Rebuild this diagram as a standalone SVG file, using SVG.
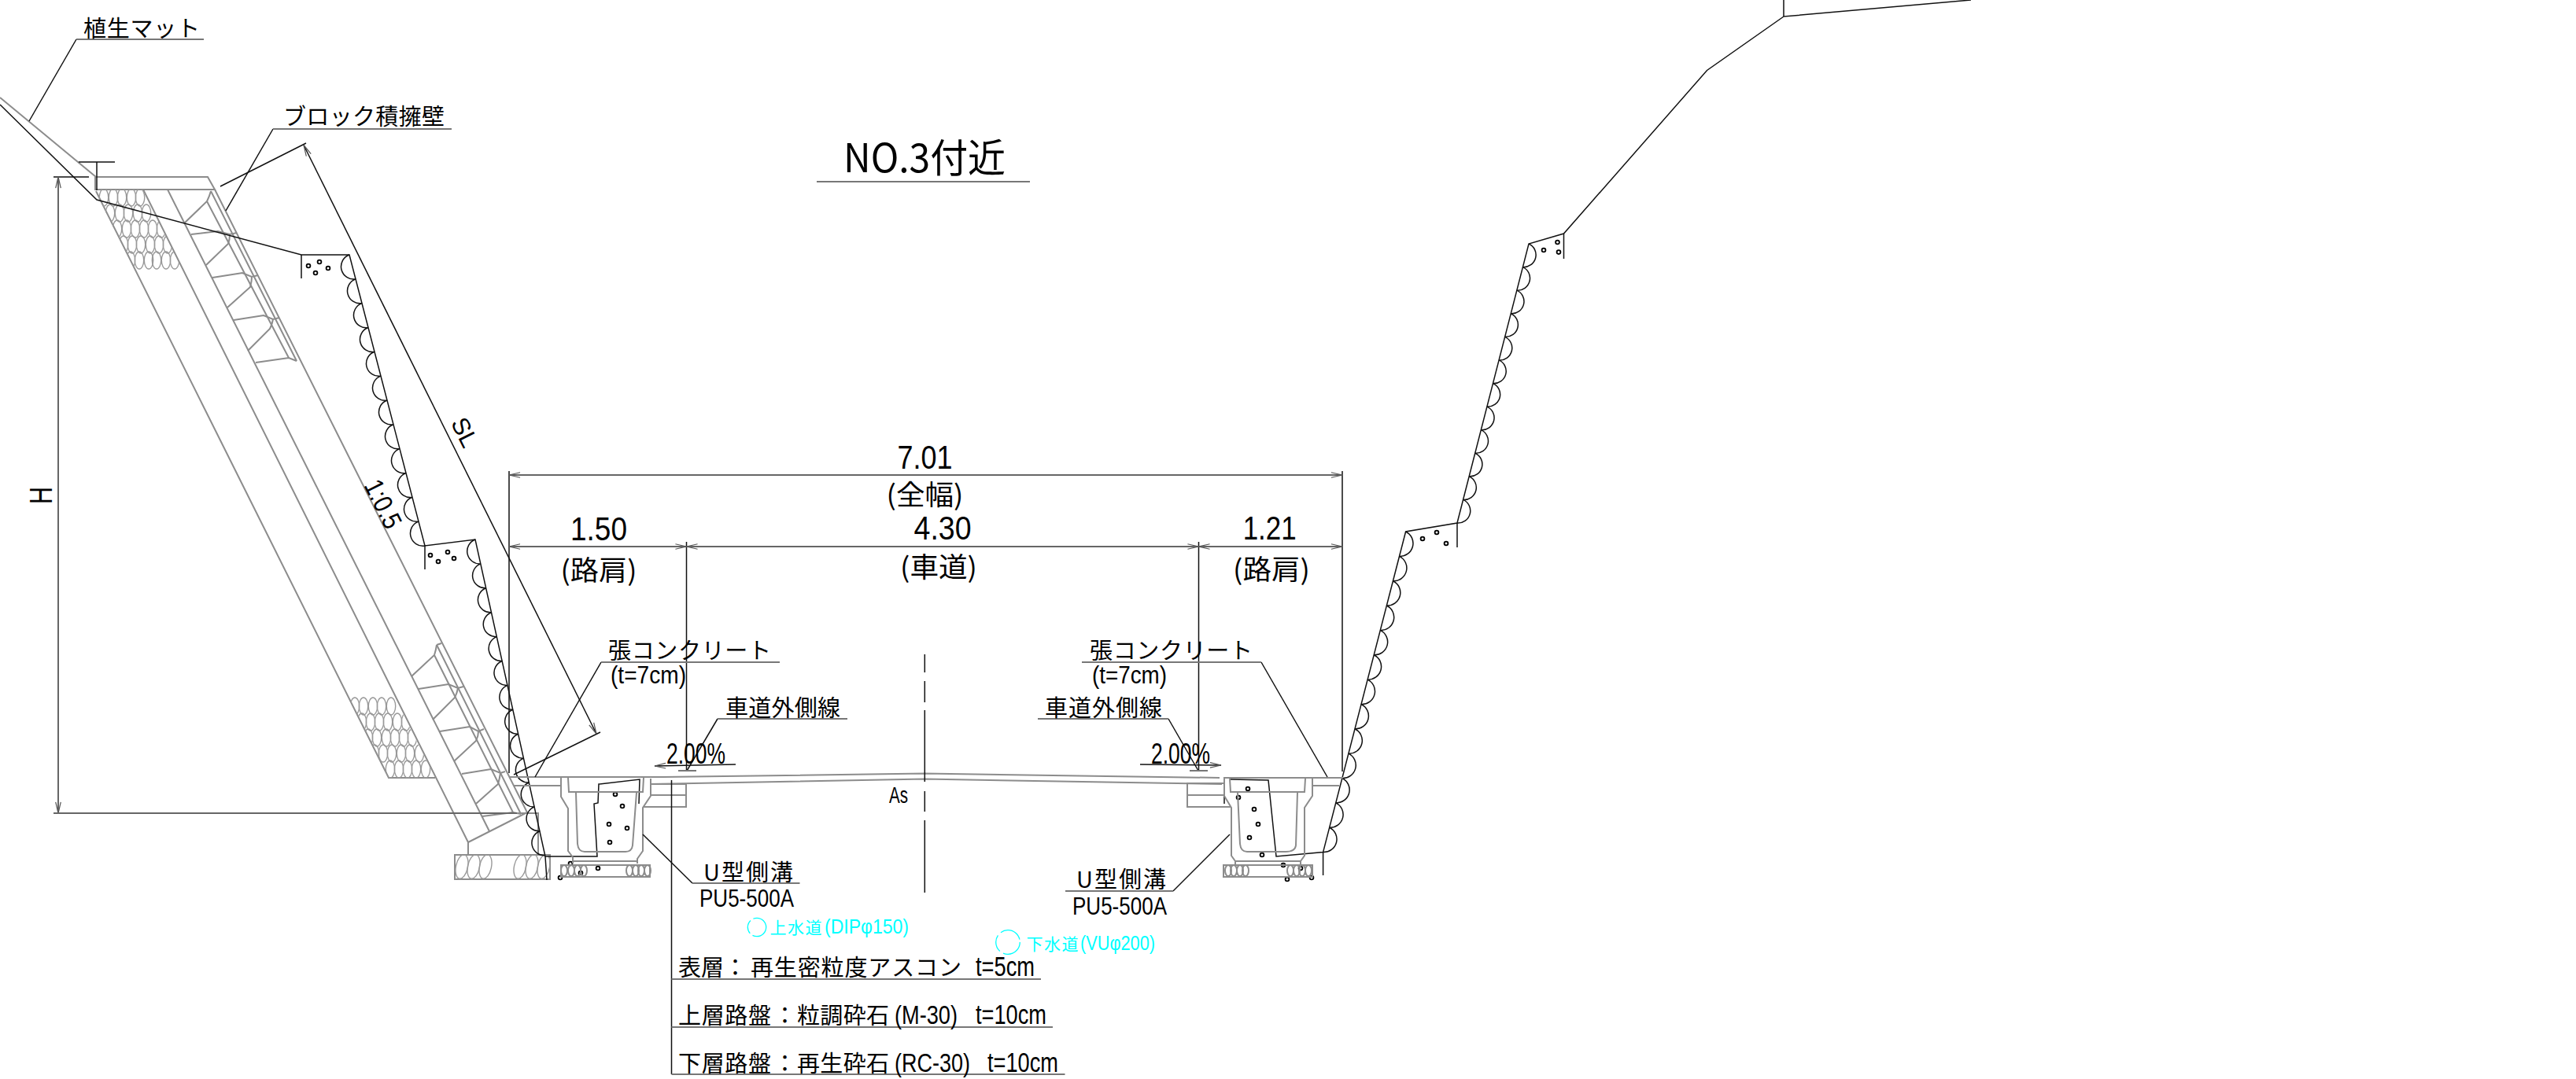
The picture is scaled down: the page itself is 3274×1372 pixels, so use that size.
<svg xmlns="http://www.w3.org/2000/svg" width="3274" height="1372" viewBox="0 0 3274 1372">
<style>
.t{font-family:"Noto Sans CJK JP","Liberation Sans",sans-serif;fill:#000}
.n{font-family:"Liberation Sans","Noto Sans CJK JP",sans-serif;fill:#000}
.c{fill:#0ff}
.g,.g path,.g line,.g ellipse,.g rect{fill:none;stroke:#8c8c8c;stroke-width:2}
.k,.k path,.k line{fill:none;stroke:#111;stroke-width:1.5}
.h{fill:none;stroke:#999;stroke-width:1.4}
.d{fill:#fff;stroke:#000;stroke-width:1.8}
.dim{fill:none;stroke:#666;stroke-width:2}
.ul{fill:none;stroke:#777;stroke-width:1.8}
</style>
<defs>
<marker id="a" markerUnits="userSpaceOnUse" markerWidth="30" markerHeight="14" refX="0" refY="0" viewBox="-16 -7 32 14" orient="auto-start-reverse" overflow="visible">
<path d="M-15 -3.5L0 0L-15 3.5" fill="none" stroke="#555" stroke-width="1.3"/>
</marker>
<clipPath id="cu"><polygon points="120,241 181,241 233,345 172,345"/></clipPath>
<clipPath id="cl"><polygon points="430,860 488,860 553,989 494,989"/></clipPath>
<clipPath id="cf"><rect x="578" y="1087" width="121" height="31"/></clipPath>
</defs>

<g id="wall-left" class="g">
<path d="M0 124L122 225H264L273 241H121V225"/>
<path d="M122 243L494 989H553"/>
<path d="M182 241L595 1071V1086"/>
<path d="M213 241L622 1057"/>
<path d="M273 241L670 1033L595 1071"/>
<path d="M268 243L377 459M263 256L367 455M555 820L662 1035M552 833L652 1033M555 820L561 818"/>
<path d="M234 284L263 256Q266 250 268 243M243 298L277 294L292 298L301 296M262 337L290 310Q292 305 292 298M270 353L308 347L320 352L328 350M289 391L318 365Q320 358 320 352M297 407L335 401L347 406L355 404M315 446L343 418Q346 412 347 406M325 461L367 455L377 459"/>
<path d="M523 860L552 833Q554 827 555 820M532 876L570 870L582 875L589 873M550 915L578 887Q581 881 582 875M559 930L597 924L608 930L615 927M577 968L605 942Q608 936 608 930M587 984L624 978L636 983L642 981M605 1022L633 997Q635 990 636 983M613 1038L652 1033L662 1035"/>
<path d="M657 1034H684V1087"/>
<rect x="578" y="1087" width="121" height="31"/>
</g>
<g id="rubble-upper" clip-path="url(#cu)" class="h">
<ellipse cx="132" cy="251" rx="5.7" ry="11"/><ellipse cx="144" cy="251" rx="5.7" ry="11"/><ellipse cx="155" cy="251" rx="5.7" ry="11"/><ellipse cx="167" cy="251" rx="5.7" ry="11"/><ellipse cx="178" cy="251" rx="5.7" ry="11"/>
<ellipse cx="140" cy="271" rx="5.7" ry="11"/><ellipse cx="152" cy="271" rx="5.7" ry="11"/><ellipse cx="163" cy="271" rx="5.7" ry="11"/><ellipse cx="175" cy="271" rx="5.7" ry="11"/><ellipse cx="186" cy="271" rx="5.7" ry="11"/>
<ellipse cx="149" cy="291" rx="5.7" ry="11"/><ellipse cx="161" cy="291" rx="5.7" ry="11"/><ellipse cx="172" cy="291" rx="5.7" ry="11"/><ellipse cx="183" cy="291" rx="5.7" ry="11"/><ellipse cx="194" cy="291" rx="5.7" ry="11"/><ellipse cx="205" cy="291" rx="5.7" ry="11"/>
<ellipse cx="157" cy="311" rx="5.7" ry="11"/><ellipse cx="168" cy="311" rx="5.7" ry="11"/><ellipse cx="179" cy="311" rx="5.7" ry="11"/><ellipse cx="191" cy="311" rx="5.7" ry="11"/><ellipse cx="202" cy="311" rx="5.7" ry="11"/><ellipse cx="213" cy="311" rx="5.7" ry="11"/>
<ellipse cx="166" cy="331" rx="5.7" ry="11"/><ellipse cx="177" cy="331" rx="5.7" ry="11"/><ellipse cx="189" cy="331" rx="5.7" ry="11"/><ellipse cx="199" cy="331" rx="5.7" ry="11"/><ellipse cx="211" cy="331" rx="5.7" ry="11"/><ellipse cx="222" cy="331" rx="5.7" ry="11"/>
</g>
<g id="rubble-lower" clip-path="url(#cl)" class="h">
<ellipse cx="451" cy="898" rx="5.7" ry="11"/><ellipse cx="462" cy="898" rx="5.7" ry="11"/><ellipse cx="474" cy="898" rx="5.7" ry="11"/><ellipse cx="485" cy="898" rx="5.7" ry="11"/><ellipse cx="497" cy="898" rx="5.7" ry="11"/>
<ellipse cx="460" cy="918" rx="5.7" ry="11"/><ellipse cx="471" cy="918" rx="5.7" ry="11"/><ellipse cx="482" cy="918" rx="5.7" ry="11"/><ellipse cx="493" cy="918" rx="5.7" ry="11"/><ellipse cx="505" cy="918" rx="5.7" ry="11"/><ellipse cx="516" cy="918" rx="5.7" ry="11"/>
<ellipse cx="468" cy="938" rx="5.7" ry="11"/><ellipse cx="479" cy="938" rx="5.7" ry="11"/><ellipse cx="491" cy="938" rx="5.7" ry="11"/><ellipse cx="502" cy="938" rx="5.7" ry="11"/><ellipse cx="513" cy="938" rx="5.7" ry="11"/><ellipse cx="524" cy="938" rx="5.7" ry="11"/>
<ellipse cx="476" cy="958" rx="5.7" ry="11"/><ellipse cx="487" cy="958" rx="5.7" ry="11"/><ellipse cx="498" cy="958" rx="5.7" ry="11"/><ellipse cx="510" cy="958" rx="5.7" ry="11"/><ellipse cx="521" cy="958" rx="5.7" ry="11"/><ellipse cx="533" cy="958" rx="5.7" ry="11"/>
<ellipse cx="496" cy="978" rx="5.7" ry="11"/><ellipse cx="507" cy="978" rx="5.7" ry="11"/><ellipse cx="518" cy="978" rx="5.7" ry="11"/><ellipse cx="529" cy="978" rx="5.7" ry="11"/><ellipse cx="541" cy="978" rx="5.7" ry="11"/>
</g>
<g id="foundation-stones" clip-path="url(#cf)" class="h">
<ellipse cx="587" cy="1102" rx="7.5" ry="15.5" transform="rotate(12 587 1102)"/><ellipse cx="602" cy="1102" rx="7.5" ry="15.5" transform="rotate(12 602 1102)"/><ellipse cx="617" cy="1102" rx="7.5" ry="15.5" transform="rotate(12 617 1102)"/><ellipse cx="661" cy="1102" rx="7.5" ry="15.5" transform="rotate(12 661 1102)"/><ellipse cx="676" cy="1102" rx="7.5" ry="15.5" transform="rotate(12 676 1102)"/><ellipse cx="691" cy="1102" rx="7.5" ry="15.5" transform="rotate(12 691 1102)"/>
</g>

<g id="rock-left" class="k">
<path d="M0 133L123 254L383 324H444L540 694L604 686L693 1089H759L755 1022L760 1021L761 997L813 991L812 1022"/>
<path d="M383 324V354M540 694V724M693 1089L695 1119"/>
<path d="M444 324a16 16 0 0 0 8 30.83a16 16 0 0 0 8 30.83a16 16 0 0 0 8 30.83a16 16 0 0 0 8 30.83a16 16 0 0 0 8 30.83a16 16 0 0 0 8 30.83a16 16 0 0 0 8 30.83a16 16 0 0 0 8 30.83a16 16 0 0 0 8 30.83a16 16 0 0 0 8 30.83a16 16 0 0 0 8 30.83a16 16 0 0 0 8 30.83"/>
<path d="M604 686a16 16 0 0 0 6.85 30.9a16 16 0 0 0 6.85 30.9a16 16 0 0 0 6.85 30.9a16 16 0 0 0 6.85 30.9a16 16 0 0 0 6.85 30.9a16 16 0 0 0 6.85 30.9a16 16 0 0 0 6.85 30.9a16 16 0 0 0 6.85 30.9a16 16 0 0 0 6.85 30.9a16 16 0 0 0 6.85 30.9a16 16 0 0 0 6.85 30.9a16 16 0 0 0 6.85 30.9a16 16 0 0 0 6.85 30.9"/>
<circle class="d" cx="392" cy="338" r="2.4"/><circle class="d" cx="406" cy="333" r="2.4"/><circle class="d" cx="401" cy="347" r="2.4"/><circle class="d" cx="417" cy="341" r="2.4"/>
<circle class="d" cx="547" cy="706" r="2.4"/><circle class="d" cx="569" cy="702" r="2.4"/><circle class="d" cx="557" cy="714" r="2.4"/><circle class="d" cx="577" cy="710" r="2.4"/>
<circle class="d" cx="782" cy="1010" r="2.4"/><circle class="d" cx="791" cy="1025" r="2.4"/><circle class="d" cx="774" cy="1048" r="2.4"/><circle class="d" cx="797" cy="1053" r="2.4"/><circle class="d" cx="775" cy="1071" r="2.4"/><circle class="d" cx="725" cy="1098" r="2.4"/><circle class="d" cx="760" cy="1104" r="2.4"/><circle class="d" cx="738" cy="1110" r="2.4"/><circle class="d" cx="712" cy="1116" r="2.4"/>
</g>

<g id="rock-right" class="k">
<path d="M2267 0V21L2505 0M2267 21L2169.5 89.5L1987.5 297L1943 310L1852 665L1786.6 676L1681.6 1083.6L1622 1089L1612 992L1564 991"/>
<path d="M1987.5 297V329M1852 665V696M1681.6 1083V1113"/>
<path d="M1943 310a15.5 15.5 0 0 1 -7.58 29.58a15.5 15.5 0 0 1 -7.58 29.58a15.5 15.5 0 0 1 -7.58 29.58a15.5 15.5 0 0 1 -7.58 29.58a15.5 15.5 0 0 1 -7.58 29.58a15.5 15.5 0 0 1 -7.58 29.58a15.5 15.5 0 0 1 -7.58 29.58a15.5 15.5 0 0 1 -7.58 29.58a15.5 15.5 0 0 1 -7.58 29.58a15.5 15.5 0 0 1 -7.58 29.58a15.5 15.5 0 0 1 -7.58 29.58a15.5 15.5 0 0 1 -7.58 29.58"/>
<path d="M1786.6 676a16.5 16.5 0 0 1 -8.08 31.35a16.5 16.5 0 0 1 -8.08 31.35a16.5 16.5 0 0 1 -8.08 31.35a16.5 16.5 0 0 1 -8.08 31.35a16.5 16.5 0 0 1 -8.08 31.35a16.5 16.5 0 0 1 -8.08 31.35a16.5 16.5 0 0 1 -8.08 31.35a16.5 16.5 0 0 1 -8.08 31.35a16.5 16.5 0 0 1 -8.08 31.35a16.5 16.5 0 0 1 -8.08 31.35a16.5 16.5 0 0 1 -8.08 31.35a16.5 16.5 0 0 1 -8.08 31.35a16.5 16.5 0 0 1 -8.08 31.35"/>
<circle class="d" cx="1962" cy="318" r="2.4"/><circle class="d" cx="1979.5" cy="308" r="2.4"/><circle class="d" cx="1981" cy="320.6" r="2.4"/>
<circle class="d" cx="1808" cy="685" r="2.4"/><circle class="d" cx="1826" cy="677" r="2.4"/><circle class="d" cx="1838" cy="691" r="2.4"/>
<circle class="d" cx="1586" cy="1003" r="2.4"/><circle class="d" cx="1574" cy="1014" r="2.4"/><circle class="d" cx="1594" cy="1029" r="2.4"/><circle class="d" cx="1599" cy="1048" r="2.4"/><circle class="d" cx="1588" cy="1065" r="2.4"/><circle class="d" cx="1604" cy="1087" r="2.4"/><circle class="d" cx="1631" cy="1100" r="2.4"/><circle class="d" cx="1653" cy="1104" r="2.4"/><circle class="d" cx="1636" cy="1118" r="2.4"/><circle class="d" cx="1667" cy="1116" r="2.4"/>
<path d="M1556 1010V1022"/>
</g>

<g id="road" class="g">
<path d="M647 988H827L843 988L1175 983.5L1550 989M1555 989H1707"/>
<path d="M827 997L1175 990.5L1553 997"/>
<path d="M653 999H713M1668 999H1702"/>
</g>
<g id="gutter-left" class="g">
<path d="M713 989V1013L722 1028V1082L728 1090V1098M827 990V1012L817 1027V1082L810 1092V1098M728 1095H810"/>
<path d="M722 989L723 1007H817L818 989"/>
<path d="M732 1008L734 1073Q735 1083 743 1083H795Q803 1083 804 1075L809 1008"/>
<path d="M827 997H872V1026H817M827 1011H872"/>
<rect x="713" y="1100" width="113" height="15"/>
<ellipse cx="717" cy="1107" rx="4" ry="7"/><ellipse cx="726" cy="1107" rx="4" ry="7"/><ellipse cx="734" cy="1107" rx="4" ry="7"/><ellipse cx="742" cy="1107" rx="4" ry="7"/><ellipse cx="800" cy="1107" rx="4" ry="7"/><ellipse cx="808" cy="1107" rx="4" ry="7"/><ellipse cx="815" cy="1107" rx="4" ry="7"/><ellipse cx="823" cy="1107" rx="4" ry="7"/>
</g>
<g id="gutter-right" class="g">
<path d="M1556 990V1012L1565 1027V1088L1570 1095V1100M1668 990V1012L1658 1027V1088L1653 1095V1100M1570 1095H1653"/>
<path d="M1563 990L1564 1007H1658L1659 990"/>
<path d="M1573 1008L1576 1073Q1577 1083 1585 1083H1634Q1646 1083 1647 1075L1649 1008"/>
<path d="M1556 996H1509V1026H1565M1509 1011H1556"/>
<rect x="1555" y="1100" width="113" height="15"/>
<ellipse cx="1561" cy="1107" rx="4" ry="7"/><ellipse cx="1568" cy="1107" rx="4" ry="7"/><ellipse cx="1576" cy="1107" rx="4" ry="7"/><ellipse cx="1583" cy="1107" rx="4" ry="7"/><ellipse cx="1640" cy="1107" rx="4" ry="7"/><ellipse cx="1648" cy="1107" rx="4" ry="7"/><ellipse cx="1655" cy="1107" rx="4" ry="7"/><ellipse cx="1663" cy="1107" rx="4" ry="7"/>
</g>

<g id="connectors">
<g class="k">
<path d="M97 50L37 154"/>
<path d="M347 164L287 268"/>
<path d="M764 842L680 988"/>
<path d="M1603 842L1687 988"/>
<path d="M912 914L873 980"/>
<path d="M1485 914L1523 980"/>
<path d="M817 1061L880 1123"/>
<path d="M1563 1061L1491 1133"/>
<path d="M853.5 992V1366"/>
<path d="M1175.3 832V855M1175.3 866V893M1175.3 903V994M1175.3 1006V1032M1175.3 1043V1135"/>
<path d="M647 599V983M872.5 689V980M1523.5 689V980M1706 599V981"/>
<path d="M100 206H146M123 206V242M68 225H113"/>
<path d="M280 237L389 182M653 985L763 931"/>
</g>
<path class="k" d="M386 184.5L758 933" marker-start="url(#a)" marker-end="url(#a)"/>
<path class="dim" d="M74 225V1034" marker-start="url(#a)" marker-end="url(#a)"/>
<path class="dim" d="M68 1034H657"/>
<path class="dim" d="M647 604H1706" marker-start="url(#a)" marker-end="url(#a)"/>
<path class="dim" d="M647 695H872.5" marker-start="url(#a)" marker-end="url(#a)"/>
<path class="dim" d="M872.5 695H1523.5" marker-start="url(#a)" marker-end="url(#a)"/>
<path class="dim" d="M1523.5 695H1706" marker-start="url(#a)" marker-end="url(#a)"/>
<path class="k" d="M935 972L832 974" marker-end="url(#a)"/>
<path class="k" d="M1449 972L1552 973" marker-end="url(#a)"/>
<path class="ul" d="M862 980H885M1512 980H1535"/>
<path class="ul" d="M97 50H259M347 164H574M1038 231H1309M764 842H991M1375 842H1603M912 914H1077M1319 914H1485M880 1123H1016.5M1354 1133H1491M853.5 1245H1323M853.5 1306H1338M853.5 1366H1353.5"/>
</g>

<g id="pipes">
<circle cx="962" cy="1179" r="11.7" fill="none" stroke="#0ff" stroke-width="1.3" stroke-dasharray="24 4 18 4"/>
<circle cx="1281" cy="1198" r="15.3" fill="none" stroke="#0ff" stroke-width="1.3" stroke-dasharray="30 5 22 5"/>
</g>

<g id="labels">
<text class="t" x="106" y="47" font-size="29" textLength="148">植生マット</text>
<text class="t" x="360" y="159" font-size="29" textLength="205">ブロック積擁壁</text>
<text class="t" x="1072" y="219" font-size="50" textLength="206" lengthAdjust="spacingAndGlyphs">NO.3付近</text>
<text class="n" font-size="42" x="1140.5" y="596" textLength="70" lengthAdjust="spacingAndGlyphs">7.01</text>
<text class="t" font-size="35" x="1126.5" y="642" textLength="98" lengthAdjust="spacingAndGlyphs">(全幅)</text>
<text class="n" font-size="42" x="725" y="687" textLength="72" lengthAdjust="spacingAndGlyphs">1.50</text>
<text class="n" font-size="42" x="1161.6" y="686" textLength="73" lengthAdjust="spacingAndGlyphs">4.30</text>
<text class="n" font-size="42" x="1579.7" y="686" textLength="68" lengthAdjust="spacingAndGlyphs">1.21</text>
<text class="t" font-size="35" x="712.6" y="738" textLength="97" lengthAdjust="spacingAndGlyphs">(路肩)</text>
<text class="t" font-size="35" x="1144" y="734" textLength="98" lengthAdjust="spacingAndGlyphs">(車道)</text>
<text class="t" font-size="35" x="1567" y="737" textLength="98" lengthAdjust="spacingAndGlyphs">(路肩)</text>
<text class="t" font-size="29" x="773" y="838" textLength="207">張コンクリート</text>
<text class="n" font-size="31" x="776" y="869" textLength="96" lengthAdjust="spacingAndGlyphs">(t=7cm)</text>
<text class="t" font-size="29" x="1385" y="838" textLength="207">張コンクリート</text>
<text class="n" font-size="31" x="1388" y="869" textLength="95" lengthAdjust="spacingAndGlyphs">(t=7cm)</text>
<text class="t" font-size="29" x="922" y="911" textLength="146">車道外側線</text>
<text class="t" font-size="29" x="1328" y="911" textLength="149">車道外側線</text>
<text class="n" font-size="36" x="847" y="971" textLength="75" lengthAdjust="spacingAndGlyphs">2.00%</text>
<text class="n" font-size="36" x="1463" y="971" textLength="75" lengthAdjust="spacingAndGlyphs">2.00%</text>
<text class="n" font-size="29" x="1130" y="1021" textLength="24" lengthAdjust="spacingAndGlyphs">As</text>
<text class="n" font-size="41" transform="translate(66 641) rotate(-90)" textLength="22" lengthAdjust="spacingAndGlyphs">H</text>
<text class="n" font-size="31" text-anchor="middle" transform="translate(581 554.5) rotate(63.4)">SL</text>
<text class="n" font-size="34" text-anchor="middle" transform="translate(476.5 646) rotate(63.4)" textLength="65" lengthAdjust="spacingAndGlyphs">1:0.5</text>
<text class="t" font-size="29" x="894" y="1120" textLength="114">U型側溝</text>
<text class="n" font-size="31" x="889" y="1153" textLength="120" lengthAdjust="spacingAndGlyphs">PU5-500A</text>
<text class="t" font-size="29" x="1368" y="1129" textLength="114">U型側溝</text>
<text class="n" font-size="31" x="1363" y="1163" textLength="120" lengthAdjust="spacingAndGlyphs">PU5-500A</text>
<text class="t c" font-size="21" y="1187"><tspan x="978.6" textLength="66">上水道</tspan><tspan class="n c" font-size="26" x="1048" textLength="107" lengthAdjust="spacingAndGlyphs">(DIPφ150)</tspan></text>
<text class="t c" font-size="21" y="1208"><tspan x="1304.5" textLength="66">下水道</tspan><tspan class="n c" font-size="26" x="1373" textLength="95" lengthAdjust="spacingAndGlyphs">(VUφ200)</tspan></text>
<text class="t" font-size="29" y="1241"><tspan x="862">表層</tspan><tspan x="920">：</tspan><tspan x="954" textLength="268">再生密粒度アスコン</tspan><tspan class="n" font-size="35" x="1240" textLength="75" lengthAdjust="spacingAndGlyphs">t=5cm</tspan></text>
<text class="t" font-size="29" y="1302"><tspan x="862" textLength="118">上層路盤</tspan><tspan x="983">：</tspan><tspan x="1013" textLength="117">粒調砕石</tspan><tspan class="n" font-size="33" x="1137" textLength="80" lengthAdjust="spacingAndGlyphs">(M-30)</tspan><tspan class="n" font-size="35" x="1240" textLength="90" lengthAdjust="spacingAndGlyphs">t=10cm</tspan></text>
<text class="t" font-size="29" y="1363"><tspan x="862" textLength="118">下層路盤</tspan><tspan x="983">：</tspan><tspan x="1013" textLength="117">再生砕石</tspan><tspan class="n" font-size="33" x="1137" textLength="96" lengthAdjust="spacingAndGlyphs">(RC-30)</tspan><tspan class="n" font-size="35" x="1255" textLength="90" lengthAdjust="spacingAndGlyphs">t=10cm</tspan></text>
</g>
</svg>
